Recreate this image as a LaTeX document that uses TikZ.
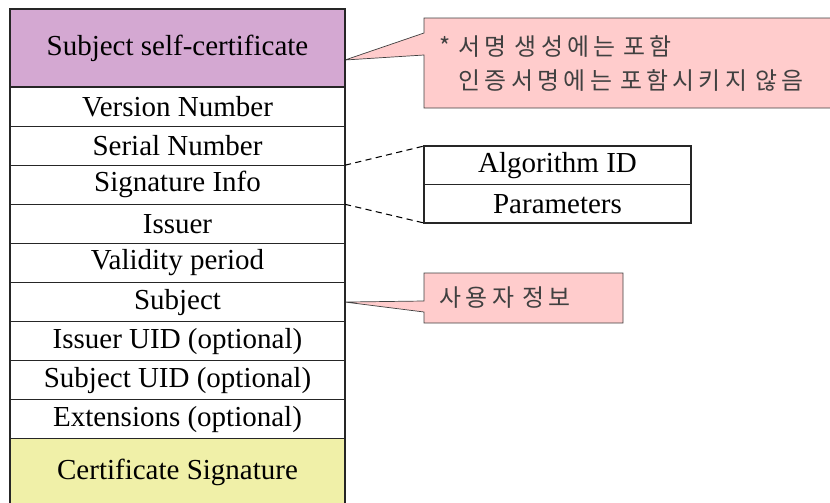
\documentclass[tikz,border=0pt]{standalone}
\usepackage{fontspec}
\setmainfont{Liberation Serif}
\newfontfamily\kofont[LetterSpace=18]{Noto Sans CJK KR}
\usetikzlibrary{calc}
\usetikzlibrary{positioning, backgrounds}

\definecolor{selfpurple}{RGB}{212,168,210}
\definecolor{sigyellow}{RGB}{240,240,168}
\definecolor{notepink}{RGB}{255,204,204}

\begin{document}
\begin{tikzpicture}[line width=0.6pt]
        % Define styles for fields and notes
        \tikzstyle{field} = [draw=black!85, minimum width=6.7cm, minimum height=0.782cm, inner sep=0pt, outer sep=0pt, font=\fontsize{16.5}{18}\selectfont]
        \tikzstyle{subfield} = [field, minimum width=5.34cm, minimum height=0.77cm]
        \tikzstyle{note} = [fill=notepink, draw=black!75]
        \tikzstyle{notetext} = [anchor=north west, inner xsep=0.3cm, inner ysep=0pt, align=left, text=black!75, font=\kofont\fontsize{13.6}{19.4}\selectfont]

        \useasboundingbox (0,0) rectangle (16.6,-10.04);
        \clip (0,0) rectangle (16.6,-10.04);

        % Draw certificate fields
        \node[field, fill=selfpurple, minimum height=1.56cm, anchor=north west] (selfcert) at (0.2,-0.18) {Subject self-certificate};
        \node[field, below=0pt of selfcert] (version) {Version Number};
        \node[field, below=0pt of version] (serial) {Serial Number};
        \node[field, below=0pt of serial] (siginfo) {Signature Info};
        \node[field, below=0pt of siginfo] (issuer) {Issuer};
        \node[field, below=0pt of issuer] (validity) {Validity period};
        \node[field, below=0pt of validity] (subject) {Subject};
        \node[field, below=0pt of subject] (issueruid) {Issuer UID (optional)};
        \node[field, below=0pt of issueruid] (subjectuid) {Subject UID (optional)};
        \node[field, below=0pt of subjectuid] (ext) {Extensions (optional)};
        \node[field, fill=sigyellow, minimum height=1.36cm, below=0pt of ext] (certsig) {Certificate Signature};

        % Draw signature algorithm
        \node[subfield, anchor=north west] (algo) at (8.48,-2.92) {Algorithm ID};
        \node[subfield, below=0pt of algo] (param) {Parameters};
        \draw[dash pattern=on 3.5pt off 2.5pt] (siginfo.north east) -- (algo.north west);
        \draw[dash pattern=on 3.5pt off 2.5pt] (siginfo.south east) -- (param.south west);

        % Draw notes
        \coordinate (tip1) at ($(selfcert.east)+(0,-0.24)$);
        \node[notetext, text width=7.9cm, minimum height=1.78cm] (note1) at (8.48,-0.36)
            {*~서명 생성에는 포함\\\hphantom{*~}인증서명에는 포함시키지 않음};
        \node[notetext, text width=3.36cm, minimum height=0.98cm] (note2) at (8.48,-5.46) {사용자 정보};
        \begin{scope}[on background layer]
            \filldraw[note] (note1.north west) -- (note1.north east) -- (note1.south east) -- (note1.south west)
                -- ($(note1.north west)+(0,-0.74)$) -- (tip1) -- ($(note1.north west)+(0,-0.30)$) -- cycle;
            \filldraw[note] (note2.north west) -- (note2.north east) -- (note2.south east) -- (note2.south west)
                -- ($(note2.north west)+(0,-0.78)$) -- (subject.east) -- ($(note2.north west)+(0,-0.56)$) -- cycle;
        \end{scope}
    \end{tikzpicture}
\end{document}
